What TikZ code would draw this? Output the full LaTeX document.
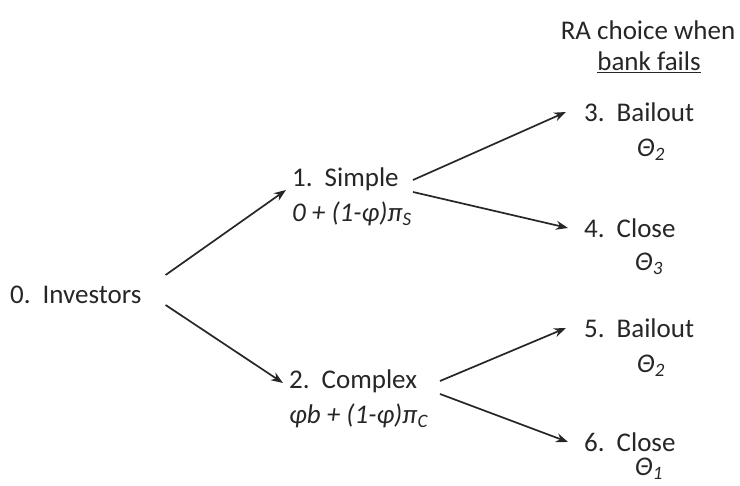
\documentclass[tikz,border=0pt]{standalone}
\usepackage{fontspec}
\setmainfont{Carlito}
\usetikzlibrary{arrows.meta}

\begin{document}
\begin{tikzpicture}[x=1pt,y=-1pt,
      every node/.style={inner sep=0pt,font=\fontsize{27}{35}\selectfont,text=black!85},
      lbl/.style={anchor=west,align=left},
      arr/.style={-{Stealth[length=12pt,width=9pt]},line width=1.7pt,black!85}]
  \useasboundingbox (0,0) rectangle (740,486);
  % header
  \node (ra) at (648,30) {RA choice when};
  \node (fails) at (649,62) {\underline{bank fails}};
  % tree
  \node[lbl] (inv) at (10,295) {0.\hspace{12pt}Investors};
  \node[lbl] (simple) at (292,197) {1.\hspace{12pt}Simple\\
    \textit{0 + (1-φ)π}\textsubscript{\textit{S}}};
  \node[lbl] (complex) at (289,399) {2.\hspace{12pt}Complex\\
    \textit{φb + (1-φ)π}\textsubscript{\textit{C}}};
  \node[lbl] (bail3) at (584,112) {3.\hspace{12pt}Bailout};
  \node (th3) at (651,150) {\textit{Θ}\textsubscript{\textit{2}}};
  \node[lbl] (close4) at (584,228) {4.\hspace{12pt}Close};
  \node (th4) at (649,264) {\textit{Θ}\textsubscript{\textit{3}}};
  \node[lbl] (bail5) at (584,328) {5.\hspace{12pt}Bailout};
  \node (th5) at (651,366) {\textit{Θ}\textsubscript{\textit{2}}};
  \node[lbl] (close6) at (584,442) {6.\hspace{12pt}Close};
  \node (th6) at (649,469) {\textit{Θ}\textsubscript{\textit{1}}};
  % arrows
  \draw[arr] ([shift={(24pt,20pt)}]inv.east) -- ([shift={(-6pt,7pt)}]simple.west);
  \draw[arr] ([shift={(24pt,-10pt)}]inv.east) -- ([shift={(-6pt,16pt)}]complex.west);
  \draw[arr] ([shift={(121pt,17pt)}]simple.west) -- ([xshift=-18pt]bail3.west);
  \draw[arr] ([shift={(121pt,5pt)}]simple.west) -- ([xshift=-16pt]close4.west);
  \draw[arr] ([shift={(151pt,18pt)}]complex.west) -- ([xshift=-18pt]bail5.west);
  \draw[arr] ([shift={(151pt,5pt)}]complex.west) -- ([xshift=-16pt]close6.west);
\end{tikzpicture}
\end{document}
